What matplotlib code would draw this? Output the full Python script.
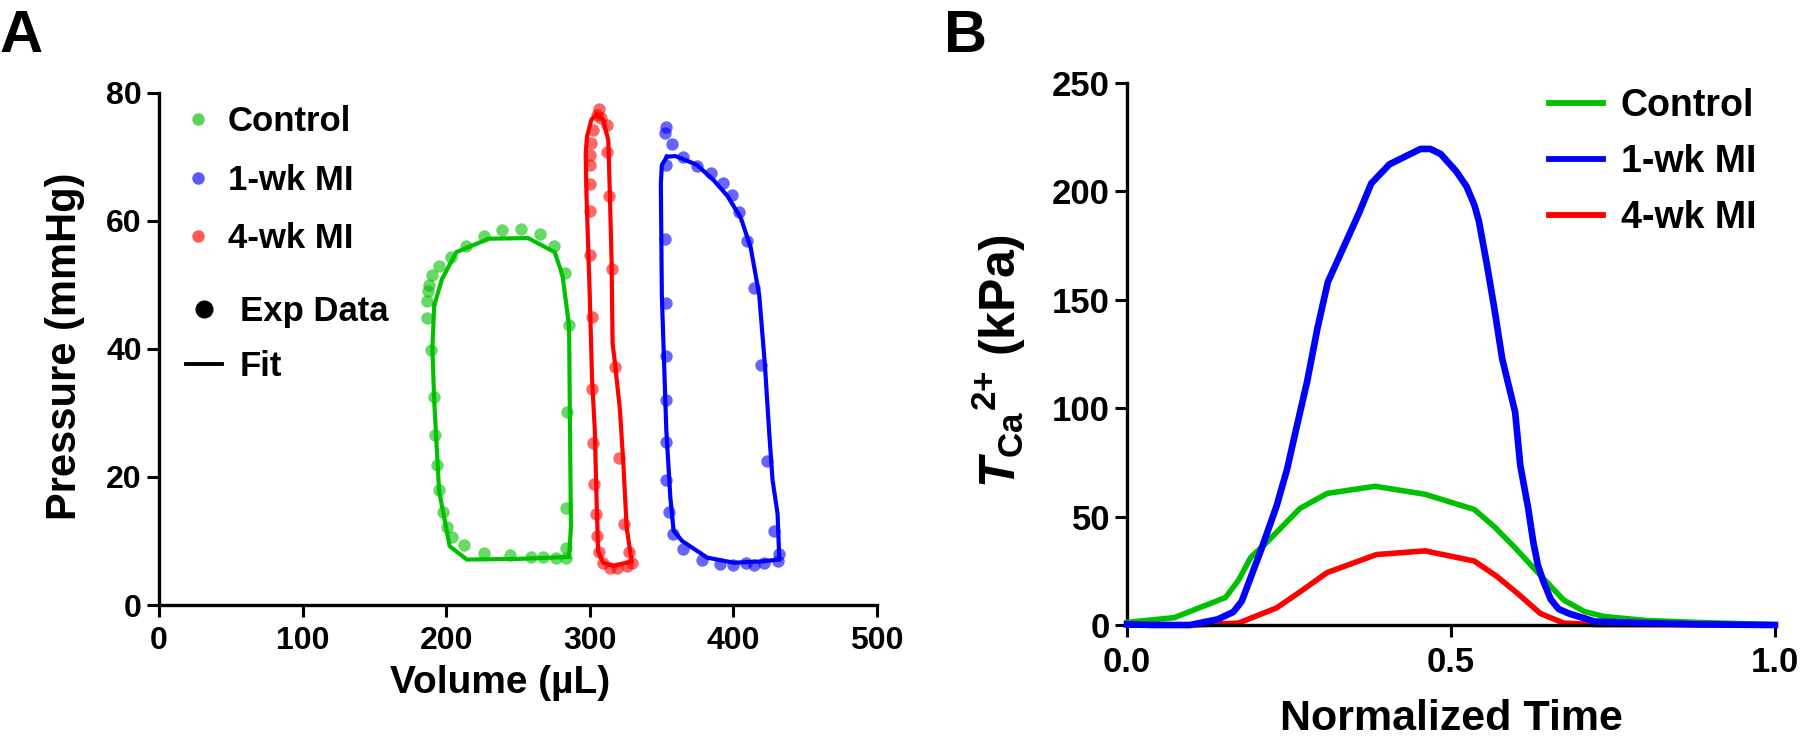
import matplotlib
matplotlib.use("Agg")
import matplotlib.pyplot as plt
from matplotlib.lines import Line2D

plt.rcParams['font.family'] = ['Liberation Sans', 'DejaVu Sans']
plt.rcParams['font.weight'] = 'bold'
plt.rcParams['mathtext.fontset'] = 'custom'
plt.rcParams['mathtext.rm'] = 'Liberation Sans:bold'
plt.rcParams['mathtext.it'] = 'Liberation Sans:italic:bold'
plt.rcParams['mathtext.bf'] = 'Liberation Sans:bold'

GREEN = '#00C000'
BLUE = '#0000FF'
RED = '#FF0000'

# ---- panel A: pressure-volume loops ----
labels = ['Control', '1-wk MI', '4-wk MI']

ctrl_exp_v = [186.4, 187.1, 188.4, 190.4, 195.1, 203.1, 213.7, 226.4, 238.7, 252.3, 265.6,
              275.3, 283.0, 285.6, 284.3, 283.6, 283.6, 283.6, 276.3, 267.6, 259.3, 244.3,
              226.4, 212.1, 204.4, 200.4, 197.7, 195.1, 193.7, 192.4, 191.7, 189.7, 186.4]
ctrl_exp_p = [47.4, 49.1, 50.0, 51.5, 53.0, 54.3, 56.0, 57.6, 58.5, 58.7, 57.9,
              56.1, 51.8, 43.7, 30.1, 15.2, 8.9, 7.4, 7.4, 7.5, 7.5, 7.8,
              8.1, 9.3, 10.6, 12.2, 14.6, 17.9, 21.8, 26.6, 32.5, 39.8, 44.8]
ctrl_fit_v = [191.7, 197.1, 207.1, 229.7, 257.0, 275.6, 281.0, 285.6, 286.3, 286.9, 285.6,
              250.0, 214.4, 202.4, 195.1, 191.7, 190.4, 191.7]
ctrl_fit_p = [46.8, 50.9, 55.1, 57.2, 57.3, 55.1, 51.5, 43.6, 26.2, 12.2, 7.5,
              7.2, 7.1, 9.2, 17.8, 31.8, 40.2, 46.8]

red_exp_v = [305.0, 306.5, 308.0, 311.7, 302.3, 301.2, 311.7, 300.5, 300.0, 300.0, 313.6,
             300.0, 300.5, 315.2, 301.4, 317.5, 301.9, 302.3, 320.6, 303.3, 304.2, 323.8,
             304.7, 327.1, 306.5, 309.3, 314.0, 318.7, 325.7, 329.2]
red_exp_p = [76.5, 77.4, 76.0, 75.0, 74.2, 72.1, 70.8, 70.3, 68.7, 65.7, 63.9,
             61.5, 54.6, 52.5, 45.0, 37.1, 33.7, 25.3, 22.9, 18.9, 14.2, 12.6,
             10.8, 8.3, 8.3, 6.6, 5.8, 5.8, 6.1, 6.6]
red_fit_v = [304.7, 309.3, 312.9, 314.0, 315.2, 315.9, 317.5, 321.0, 323.4, 325.7, 329.2,
             316.4, 309.3, 305.8, 304.7, 303.5, 301.6, 300.0, 297.7, 297.2, 298.1, 301.2, 304.7]
red_fit_p = [76.6, 75.8, 72.6, 64.2, 53.7, 40.8, 37.9, 30.5, 22.1, 12.1, 6.8,
             6.1, 6.6, 8.4, 16.8, 27.4, 35.3, 48.4, 64.2, 70.5, 73.2, 75.8, 76.6]

blue_exp_v = [353.3, 352.6, 357.2, 353.3, 365.0, 374.8, 384.6, 393.0, 399.3, 404.0, 409.3,
              414.5, 419.2, 423.4, 428.5, 432.0, 430.8, 421.5, 414.5, 408.6, 400.0, 390.7,
              378.3, 365.0, 357.9, 354.9, 353.3, 353.3, 353.3, 353.3, 352.8, 352.6]
blue_exp_p = [74.7, 73.7, 72.0, 68.7, 69.9, 68.6, 67.4, 65.9, 64.1, 61.3, 56.8,
              49.5, 37.5, 22.5, 11.6, 7.9, 6.8, 6.6, 6.3, 6.6, 6.3, 6.4,
              7.1, 8.7, 11.1, 14.5, 19.5, 25.5, 32.0, 38.9, 47.1, 57.1]
blue_fit_v = [353.7, 359.6, 364.3, 374.8, 386.4, 395.8, 405.1, 412.1, 418.0, 422.0, 425.0,
              427.3, 430.8, 432.0, 419.2, 400.5, 381.8, 364.3, 358.4, 356.1, 353.3, 350.2,
              349.5, 350.2, 353.7]
blue_fit_p = [70.0, 70.1, 69.7, 68.7, 66.3, 63.9, 60.5, 55.8, 48.4, 37.4, 26.8,
              19.5, 14.2, 7.1, 6.8, 6.6, 7.4, 10.0, 11.6, 16.8, 27.4, 48.4,
              65.8, 68.7, 70.0]

# ---- panel B: calcium-dependent tension ----
t_ctrl = [0.0, 0.073, 0.152, 0.172, 0.191, 0.215, 0.267, 0.309, 0.383, 0.460, 0.536,
          0.567, 0.599, 0.634, 0.674, 0.706, 0.737, 0.801, 0.880, 1.0]
T_ctrl = [1.2, 3.4, 12.7, 20.6, 31.2, 37.9, 53.8, 60.7, 64.0, 60.3, 53.3,
          45.3, 35.6, 24.2, 11.5, 6.2, 3.9, 2.1, 1.2, 0.2]
t_1wk = [0.0, 0.041, 0.097, 0.140, 0.164, 0.177, 0.207, 0.231, 0.247, 0.263, 0.278,
         0.294, 0.310, 0.334, 0.358, 0.377, 0.405, 0.453, 0.468, 0.484, 0.508, 0.524,
         0.536, 0.543, 0.555, 0.567, 0.579, 0.599, 0.607, 0.619, 0.627, 0.634, 0.642,
         0.654, 0.666, 0.682, 0.722, 0.801, 0.880, 1.0]
T_1wk = [0.3, 0.0, 0.0, 2.6, 6.0, 10.9, 34.7, 55.0, 71.8, 92.9, 112.3,
         137.0, 158.2, 174.1, 190.0, 203.7, 212.5, 219.6, 219.6, 217.3, 209.3, 202.3,
         193.8, 186.4, 167.0, 145.9, 122.9, 98.2, 73.5, 54.1, 38.3, 27.7, 20.6,
         11.8, 7.4, 5.3, 1.6, 0.9, 0.3, 0.0]
t_4wk = [0.0, 0.104, 0.172, 0.231, 0.267, 0.309, 0.385, 0.460, 0.536, 0.571, 0.603,
         0.638, 0.674, 0.722, 1.0]
T_4wk = [0.0, 0.0, 0.9, 7.9, 15.3, 24.2, 32.5, 34.2, 29.5, 22.4, 14.5,
         5.3, 0.9, 0.2, 0.0]

fig = plt.figure(figsize=(18, 7.38), dpi=100)
axA = fig.add_axes([0.0883, 0.1802, 0.3989, 0.6942])
axB = fig.add_axes([0.6261, 0.1531, 0.36, 0.7344])

for ax in (axA, axB):
    ax.spines[['top', 'right']].set_visible(False)
    ax.spines[['left', 'bottom']].set_linewidth(2.4)
    ax.tick_params(width=2.2, length=8.6, direction='out')

# panel A
for v, p, c in [(ctrl_exp_v, ctrl_exp_p, GREEN), (red_exp_v, red_exp_p, RED),
                (blue_exp_v, blue_exp_p, BLUE)]:
    axA.scatter(v, p, s=80, color=c, alpha=0.6, linewidths=0, zorder=2, clip_on=False)
for v, p, c in [(ctrl_fit_v, ctrl_fit_p, GREEN), (red_fit_v, red_fit_p, RED),
                (blue_fit_v, blue_fit_p, BLUE)]:
    axA.plot(v, p, color=c, lw=3.0, zorder=3, solid_joinstyle='miter')

axA.set_xlim(0, 500)
axA.set_ylim(0, 80)
axA.set_xticks(range(0, 501, 100))
axA.set_yticks(range(0, 81, 20))
axA.tick_params(axis='both', labelsize=23)
axA.tick_params(axis='x', pad=6.5)
axA.tick_params(axis='y', pad=3.6)
axA.set_xlabel('Volume (µL)', fontsize=28, fontweight='bold')
axA.set_ylabel('Pressure (mmHg)', fontsize=30, fontweight='bold')
axA.xaxis.set_label_coords(0.475, -0.117)
axA.yaxis.set_label_coords(-0.103, 0.505)

h1 = [Line2D([], [], ls='none', marker='o', ms=9, color=c, alpha=0.65, mew=0)
      for c in (GREEN, BLUE, RED)]
leg1 = axA.legend(h1, labels, loc='upper left', bbox_to_anchor=(0.0345, 0.976),
                  frameon=False, fontsize=25, handlelength=0.8, handletextpad=0.47,
                  labelspacing=0.74, borderpad=0, borderaxespad=0)
axA.add_artist(leg1)
h2 = [Line2D([], [], ls='none', marker='o', ms=12, color='black'),
      Line2D([], [], color='black', lw=2.8)]
axA.legend(h2, ['Exp Data', 'Fit'], loc='upper left', bbox_to_anchor=(0.0376, 0.605),
           frameon=False, fontsize=25, handlelength=1.04, handletextpad=0.52,
           labelspacing=0.64, borderpad=0, borderaxespad=0)

# panel B
axB.plot(t_ctrl, T_ctrl, color=GREEN, lw=4.0, label=labels[0], clip_on=False, zorder=3)
axB.plot(t_1wk, T_1wk, color=BLUE, lw=4.8, label=labels[1], clip_on=False, zorder=4)
axB.plot(t_4wk, T_4wk, color=RED, lw=4.0, label=labels[2], clip_on=False, zorder=2)
axB.set_xlim(0, 1)
axB.set_ylim(0, 250)
axB.set_xticks([0, 0.5, 1.0])
axB.set_xticklabels(['0.0', '0.5', '1.0'])
axB.set_yticks(range(0, 251, 50))
axB.tick_params(axis='both', labelsize=25)
axB.tick_params(axis='x', pad=6.5)
axB.tick_params(axis='y', pad=3.6)
axB.set_xlabel('Normalized Time', fontsize=31, fontweight='bold')
axB.set_ylabel(r'$\mathit{T}_{\mathrm{Ca}}{}^{\mathrm{2{+}}}$ (kPa)', fontsize=36,
               fontweight='bold')
axB.xaxis.set_label_coords(0.5, -0.136)
axB.yaxis.set_label_coords(-0.153, 0.487)
legB = axB.legend(loc='upper left', bbox_to_anchor=(0.651, 0.99), frameon=False,
                  fontsize=27, handlelength=1.44, handletextpad=0.48,
                  labelspacing=0.53, borderpad=0, borderaxespad=0)
for line in legB.get_lines():
    line.set_linewidth(4.2)

fig.text(0.0, 1 - 52 / 738, 'A', fontsize=43, fontweight='bold', ha='left', va='baseline')
fig.text(0.5244, 1 - 52 / 738, 'B', fontsize=43, fontweight='bold', ha='left', va='baseline')

fig.savefig('out.png', dpi=100)
